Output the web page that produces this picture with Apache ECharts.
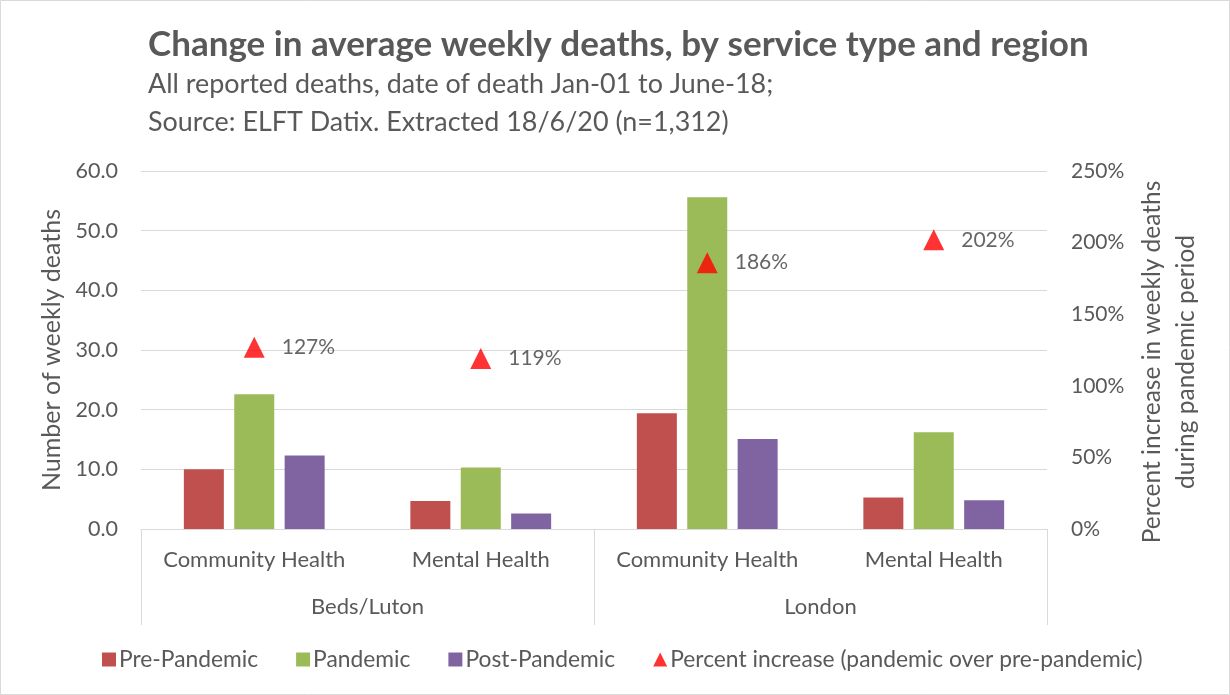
<!DOCTYPE html>
<html>
<head>
<meta charset="utf-8">
<script src="https://cdn.jsdelivr.net/npm/echarts@6/dist/echarts.min.js"></script>
<style>
  html, body { margin: 0; padding: 0; background: #fff; }
  #chart { width: 1230px; height: 695px; }
</style>
</head>
<body>
<div id="chart"></div>
<script>
// Service types (inner axis level) and regions (outer axis level)
const services = ['Community Health', 'Mental Health', 'Community Health', 'Mental Health'];
const regions = ['Beds/Luton', 'London'];

// Average weekly deaths per period
const prePandemic = [10.0, 4.7, 19.4, 5.3];
const pandemic = [22.6, 10.3, 55.6, 16.2];
const postPandemic = [12.3, 2.6, 15.1, 4.8];

// Percent increase, pandemic over pre-pandemic
const percentIncrease = [127, 119, 186, 202];

const FONT = 'Lato, "Open Sans", sans-serif';
const GREY = '#595959';
const LINE = '#d9d9d9';

const chart = echarts.init(document.getElementById('chart'), null, { renderer: 'canvas' });

chart.setOption({
  animation: false,
  textStyle: { fontFamily: FONT },
  graphic: [{
    type: 'rect', silent: true, z: -1,
    shape: { x: 0.5, y: 0.5, width: 1229, height: 694 },
    style: { fill: null, stroke: LINE, lineWidth: 1 }
  }],
  title: [
    {
      text: 'Change in average weekly deaths, by service type and region',
      left: 143, top: 22,
      textStyle: { fontFamily: FONT, fontSize: 35, fontWeight: 'bold', color: GREY }
    },
    {
      text: 'All reported deaths, date of death Jan-01 to June-18;\nSource: ELFT Datix. Extracted 18/6/20 (n=1,312)',
      left: 143, top: 61,
      textStyle: { fontFamily: FONT, fontSize: 26.9, fontWeight: 'normal', color: GREY, lineHeight: 37.5 }
    }
  ],
  legend: {
    left: 97, top: 643,
    itemWidth: 14, itemHeight: 14, itemGap: 38,
    textStyle: { fontFamily: FONT, fontSize: 22.8, color: GREY, padding: [0, 0, 0, -2] },
    data: [
      { name: 'Pre-Pandemic', icon: 'rect' },
      { name: 'Pandemic', icon: 'rect' },
      { name: 'Post-Pandemic', icon: 'rect' },
      { name: 'Percent increase (pandemic over pre-pandemic)', icon: 'triangle' }
    ]
  },
  grid: { left: 141, right: 183, top: 171, bottom: 166 },
  xAxis: [
    {
      type: 'category', data: services, position: 'bottom',
      axisLine: { lineStyle: { color: LINE, width: 1 } },
      axisTick: { show: false },
      axisLabel: { fontFamily: FONT, fontSize: 22, color: GREY, margin: 20, interval: 0 }
    },
    {
      type: 'category', data: regions, position: 'bottom',
      axisLine: { show: false },
      axisTick: { show: true, length: 96, lineStyle: { color: LINE, width: 1 } },
      axisLabel: { fontFamily: FONT, fontSize: 22, color: GREY, margin: 67, interval: 0 },
      splitLine: { show: false }
    }
  ],
  yAxis: [
    {
      type: 'value', min: 0, max: 60, interval: 10, position: 'left',
      name: 'Number of weekly deaths', nameLocation: 'middle', nameGap: 75, nameRotate: 90,
      nameTextStyle: { fontFamily: FONT, fontSize: 25, color: GREY },
      axisLine: { show: false }, axisTick: { show: false },
      axisLabel: { fontFamily: FONT, fontSize: 21.5, color: GREY, margin: 23, formatter: v => v.toFixed(1) },
      splitLine: { lineStyle: { color: LINE, width: 1 } }
    },
    {
      type: 'value', min: 0, max: 250, interval: 50, position: 'right',
      name: 'Percent increase in weekly deaths\nduring pandemic period', nameLocation: 'middle', nameGap: 86, nameRotate: 90,
      nameTextStyle: { fontFamily: FONT, fontSize: 24.5, color: GREY, lineHeight: 34, padding: [0, 24, 0, 0] },
      axisLine: { show: false }, axisTick: { show: false },
      axisLabel: { fontFamily: FONT, fontSize: 21, color: GREY, margin: 24, formatter: '{value}%' },
      splitLine: { show: false }
    }
  ],
  series: [
    {
      name: 'Pre-Pandemic', type: 'bar', xAxisIndex: 0, yAxisIndex: 0,
      data: prePandemic, barWidth: 40, barGap: '26%',
      itemStyle: { color: '#C0504D' }
    },
    {
      name: 'Pandemic', type: 'bar', xAxisIndex: 0, yAxisIndex: 0,
      data: pandemic, barWidth: 40, barGap: '26%',
      itemStyle: { color: '#9BBB59' }
    },
    {
      name: 'Post-Pandemic', type: 'bar', xAxisIndex: 0, yAxisIndex: 0,
      data: postPandemic, barWidth: 40, barGap: '26%',
      itemStyle: { color: '#8064A2' }
    },
    {
      name: 'Percent increase (pandemic over pre-pandemic)', type: 'scatter',
      xAxisIndex: 0, yAxisIndex: 1,
      data: percentIncrease, symbol: 'triangle', symbolSize: 21,
      itemStyle: { color: '#FF0000' },
      label: {
        show: true, position: 'right', distance: 17,
        formatter: p => p.value + '%',
        fontFamily: FONT, fontSize: 21, color: '#404040'
      }
    }
  ]
});
</script>
</body>
</html>
